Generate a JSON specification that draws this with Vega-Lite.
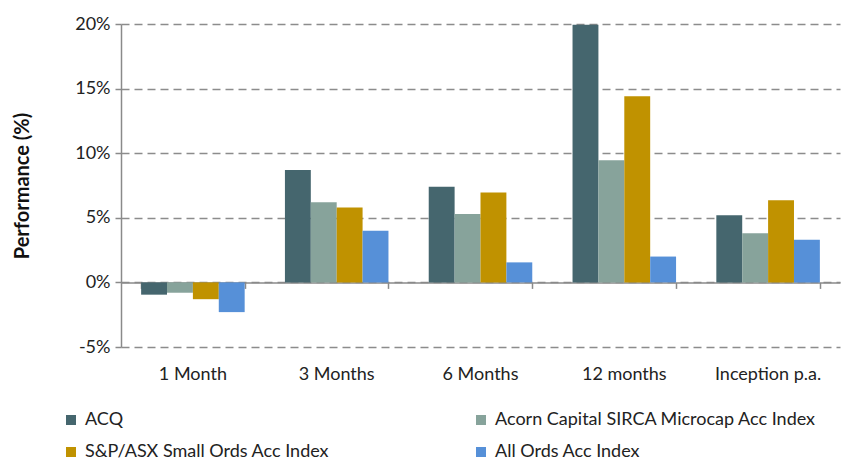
{
  "$schema": "https://vega.github.io/schema/vega-lite/v6.json",
  "width": 719,
  "height": 323,
  "autosize": "none",
  "padding": {"left": 121, "top": 24, "right": 3, "bottom": 115},
  "background": "white",
  "config": {
    "view": {"stroke": null},
    "font": "Lato",
    "axis": {"labelFont": "Lato", "titleFont": "Lato"},
    "legend": {"labelFont": "Lato"}
  },
  "data": {
    "values": [
      {"period": "1 Month", "series": "ACQ", "value": -0.95},
      {"period": "1 Month", "series": "Acorn Capital SIRCA Microcap Acc Index", "value": -0.8},
      {"period": "1 Month", "series": "S&P/ASX Small Ords Acc Index", "value": -1.3},
      {"period": "1 Month", "series": "All Ords Acc Index", "value": -2.3},
      {"period": "3 Months", "series": "ACQ", "value": 8.7},
      {"period": "3 Months", "series": "Acorn Capital SIRCA Microcap Acc Index", "value": 6.2},
      {"period": "3 Months", "series": "S&P/ASX Small Ords Acc Index", "value": 5.8},
      {"period": "3 Months", "series": "All Ords Acc Index", "value": 4.0},
      {"period": "6 Months", "series": "ACQ", "value": 7.4},
      {"period": "6 Months", "series": "Acorn Capital SIRCA Microcap Acc Index", "value": 5.3},
      {"period": "6 Months", "series": "S&P/ASX Small Ords Acc Index", "value": 6.95},
      {"period": "6 Months", "series": "All Ords Acc Index", "value": 1.55},
      {"period": "12 months", "series": "ACQ", "value": 19.95},
      {"period": "12 months", "series": "Acorn Capital SIRCA Microcap Acc Index", "value": 9.45},
      {"period": "12 months", "series": "S&P/ASX Small Ords Acc Index", "value": 14.4},
      {"period": "12 months", "series": "All Ords Acc Index", "value": 2.0},
      {"period": "Inception p.a.", "series": "ACQ", "value": 5.2},
      {"period": "Inception p.a.", "series": "Acorn Capital SIRCA Microcap Acc Index", "value": 3.8},
      {"period": "Inception p.a.", "series": "S&P/ASX Small Ords Acc Index", "value": 6.35},
      {"period": "Inception p.a.", "series": "All Ords Acc Index", "value": 3.3}
    ]
  },
  "resolve": {"axis": {"x": "independent"}},
  "layer": [
    {
      "mark": {"type": "bar"},
      "encoding": {
        "x": {
          "field": "period",
          "type": "nominal",
          "sort": ["1 Month", "3 Months", "6 Months", "12 months", "Inception p.a."],
          "scale": {"paddingInner": 0.28, "paddingOuter": 0.14},
          "axis": {
            "orient": "bottom",
            "title": null,
            "domain": false,
            "ticks": false,
            "labelAngle": 0,
            "labelFontSize": 18,
            "labelColor": "#222222",
            "labelPadding": 18
          }
        },
        "xOffset": {
          "field": "series",
          "type": "nominal",
          "sort": ["ACQ", "Acorn Capital SIRCA Microcap Acc Index", "S&P/ASX Small Ords Acc Index", "All Ords Acc Index"],
          "scale": {"paddingInner": 0, "paddingOuter": 0}
        },
        "y": {
          "field": "value",
          "type": "quantitative",
          "scale": {"domain": [-5, 20], "nice": false},
          "axis": {
            "values": [-5, 0, 5, 10, 15, 20],
            "labelExpr": "datum.value + '%'",
            "labelFontSize": 18,
            "labelColor": "#222222",
            "labelPadding": 5,
            "tickSize": 6,
            "tickColor": "#8a8a8a",
            "tickWidth": 1.5,
            "domainColor": "#8a8a8a",
            "domainWidth": 1.5,
            "grid": true,
            "gridColor": "#8c8c8c",
            "gridWidth": 1.6,
            "gridDash": [8, 5],
            "title": "Performance (%)",
            "titleFontSize": 20,
            "titleFontWeight": "bold",
            "titleColor": "#111111",
            "titlePadding": 42
          }
        },
        "color": {
          "field": "series",
          "type": "nominal",
          "sort": ["ACQ", "Acorn Capital SIRCA Microcap Acc Index", "S&P/ASX Small Ords Acc Index", "All Ords Acc Index"],
          "scale": {
            "domain": ["ACQ", "Acorn Capital SIRCA Microcap Acc Index", "S&P/ASX Small Ords Acc Index", "All Ords Acc Index"],
            "range": ["#45666E", "#87A39B", "#C09200", "#5690D8"]
          },
          "legend": {
            "title": null,
            "orient": "none",
            "legendX": -59,
            "legendY": 387,
            "direction": "horizontal",
            "columns": 2,
            "columnPadding": 142,
            "rowPadding": 14,
            "symbolType": "square",
            "symbolSize": 100,
            "symbolStrokeWidth": 0,
            "labelFontSize": 18,
            "labelColor": "#222222",
            "labelLimit": 500,
            "labelOffset": 5
          }
        }
      }
    },
    {
      "mark": {"type": "tick", "opacity": 0},
      "encoding": {
        "x": {
          "field": "period",
          "type": "nominal",
          "sort": ["1 Month", "3 Months", "6 Months", "12 months", "Inception p.a."],
          "axis": {
            "orient": "bottom",
            "offset": -64.6,
            "title": null,
            "labels": false,
            "domain": true,
            "domainColor": "#8a8a8a",
            "domainWidth": 1.5,
            "ticks": true,
            "tickBand": "extent",
            "tickSize": 6,
            "tickColor": "#8a8a8a",
            "tickWidth": 1.5,
            "grid": false
          }
        },
        "y": {"field": "value", "type": "quantitative"}
      }
    }
  ]
}
